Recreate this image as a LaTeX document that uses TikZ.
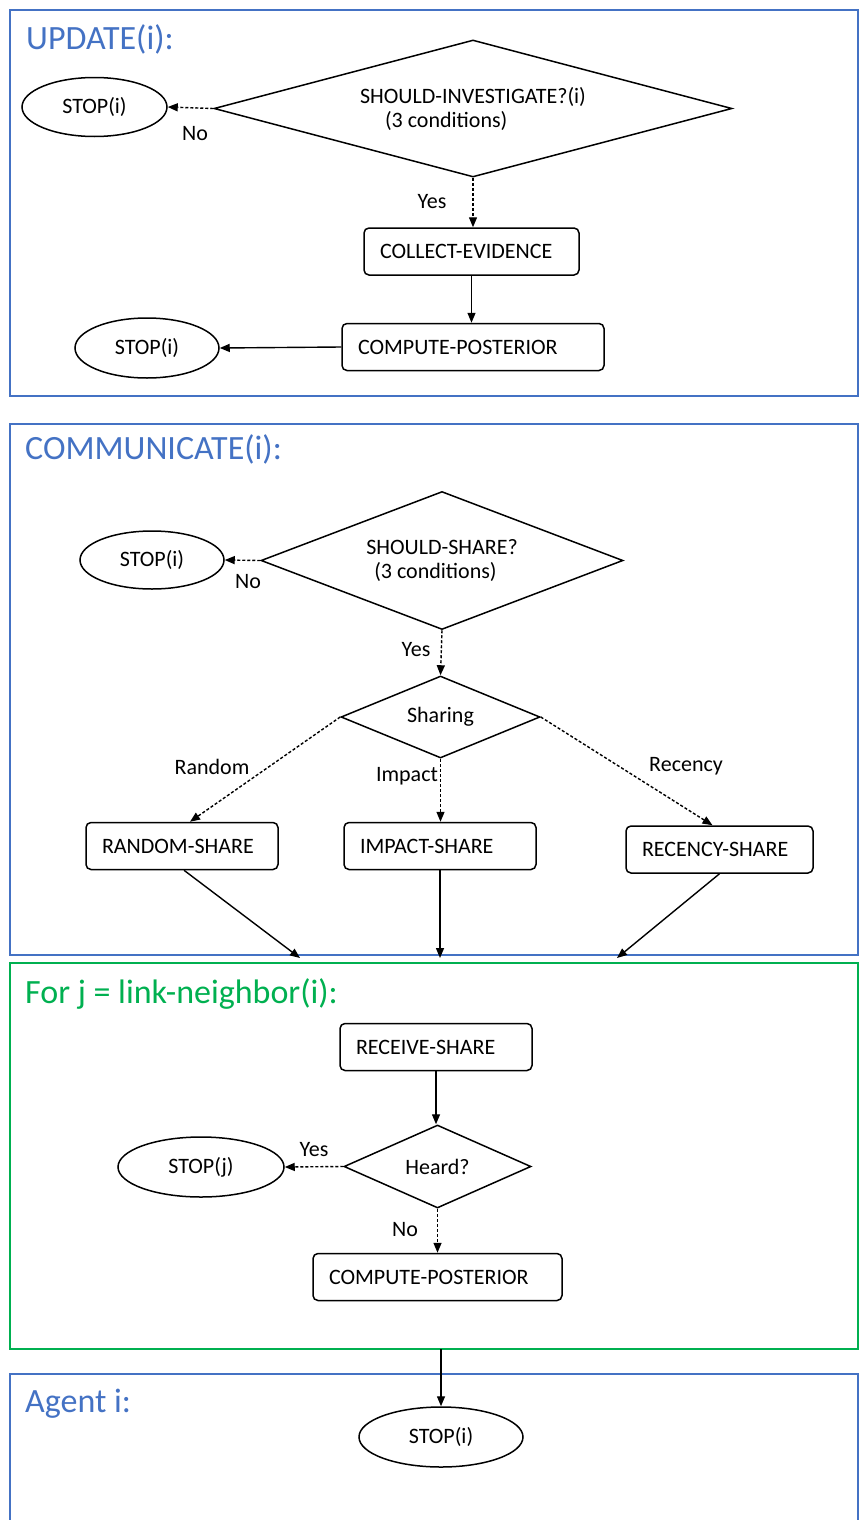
\documentclass[tikz,border=0pt]{standalone}
\usepackage{fontspec}
\setmainfont{Carlito}
\usepackage{xcolor}
\usepackage{tikz}
\usetikzlibrary{shapes,arrows.meta}
\usetikzlibrary{positioning}
\definecolor{bluoffice}{RGB}{68,114,196}
\definecolor{verde}{RGB}{0,176,80}
\newcommand{\testonodo}{\fontsize{22}{24}\selectfont}
\newcommand{\testotitolo}{\fontsize{34}{38}\selectfont}
\tikzset{%
  blocco/.style={%
    draw, rounded corners=5pt, line width=1.5pt,
    minimum height=47pt, inner xsep=16pt, inner ysep=0pt,
    align=left, font=\testonodo
  },
  rombo/.style={draw, diamond, line width=1.5pt, inner sep=0pt, font=\testonodo},
  ellisse/.style={draw, ellipse, line width=1.5pt, inner sep=0pt, font=\testonodo},
  freccia/.style={-{Triangle[length=10pt,width=8pt]}, line width=1.4pt},
  tratteggio/.style={freccia, dash pattern=on 3pt off 2pt},
  cornice/.style={line width=1.6pt},
  titolo/.style={anchor=base west, inner sep=0pt, font=\testotitolo},
  etichetta/.style={inner sep=0pt, font=\testonodo}
}

\begin{document}
\begin{tikzpicture}[x=1pt,y=-1pt]
\useasboundingbox (0,0) rectangle (859,1520);
\clip (0,0) rectangle (859,1520);

% cornici
\draw[cornice,bluoffice] (10,10) rectangle (858,396);
\draw[cornice,bluoffice] (10,424) rectangle (858,955);
\draw[cornice,verde] (10,963) rectangle (858,1349);
\draw[cornice,bluoffice] (10,1374) rectangle (858,1540);

\node[titolo,bluoffice] (tupdate) at (26,49) {UPDATE(i):};
\node[titolo,bluoffice] (tcomm) at (25,459) {COMMUNICATE(i):};
\node[titolo,verde] (tfor) at (25,1003) {For j = link-neighbor(i):};
\node[titolo,bluoffice] (tagent) at (25,1412) {Agent i:};

% UPDATE
\node[rombo, aspect=3.8, minimum width=518pt, minimum height=137pt, align=left] (invest) at (473,108.5)
  {SHOULD-INVESTIGATE?(i)\\\hspace*{25pt}(3 conditions)};
\node[ellisse, minimum width=145pt, minimum height=59pt] (stopA) at (94.5,107) {STOP(i)};
\node[blocco, text width=183pt] (collect) at (471.5,251.5) {COLLECT-EVIDENCE};
\node[blocco, text width=230pt] (postA) at (473,347) {COMPUTE-POSTERIOR};
\node[ellisse, minimum width=144pt, minimum height=60pt] (stopB) at (147,348) {STOP(i)};
\node[etichetta] (no1) at (195,134) {No};
\node[etichetta] (yes1) at (432,202) {Yes};

\draw[tratteggio] (invest.west) -- (stopA.east);
\draw[tratteggio] (invest.south) -- (invest.south |- collect.north);
\draw[freccia] (collect.south) -- (collect.south |- postA.north);
\draw[freccia] (postA.west) -- (stopB.east);

% COMMUNICATE
\node[rombo, aspect=2.6, minimum width=362pt, minimum height=138pt, align=left] (share) at (442,560.5)
  {SHOULD-SHARE?\\\hspace*{8pt}(3 conditions)};
\node[ellisse, minimum width=144pt, minimum height=58pt] (stopC) at (152,560) {STOP(i)};
\node[rombo, aspect=2.4, minimum width=199pt, minimum height=82pt] (sharing) at (440.5,717) {Sharing};
\node[blocco, text width=160pt] (random) at (182,846) {RANDOM-SHARE};
\node[blocco, text width=160pt] (impact) at (440,846) {IMPACT-SHARE};
\node[blocco, text width=155pt] (recency) at (719.5,849.5) {RECENCY-SHARE};
\node[etichetta] (no2) at (248,582) {No};
\node[etichetta] (yes2) at (416,650) {Yes};
\node[etichetta] (lrandom) at (212,767) {Random};
\node[etichetta] (limpact) at (407,776) {Impact};
\node[etichetta] (lrecency) at (686,766) {Recency};
\coordinate (finA) at (300,958);
\coordinate (finB) at (440,958);
\coordinate (finC) at (617,958);

\draw[tratteggio] (share.west) -- (stopC.east);
\draw[tratteggio] (share.south) -- (sharing.north);
\draw[tratteggio] (sharing.west) -- ([xshift=8pt]random.north);
\draw[tratteggio] (sharing.south) -- (sharing.south |- impact.north);
\draw[tratteggio] (sharing.east) -- ([xshift=-7pt]recency.north);
\draw[freccia] ([xshift=2pt]random.south) -- (finA);
\draw[freccia] (impact.south) -- (finB);
\draw[freccia] (recency.south) -- (finC);

% link-neighbor
\node[blocco, text width=160pt] (receive) at (436,1047) {RECEIVE-SHARE};
\node[rombo, aspect=2.3, minimum width=187pt, minimum height=83pt] (heard) at (437.5,1166.5) {Heard?};
\node[ellisse, minimum width=166pt, minimum height=60pt] (stopJ) at (201,1167) {STOP(j)};
\node[blocco, text width=217pt] (postB) at (437.5,1277) {COMPUTE-POSTERIOR};
\node[etichetta] (yes3) at (314,1150) {Yes};
\node[etichetta] (no3) at (405,1230) {No};
\coordinate (uscita) at (441,1349);

\draw[freccia] (receive.south) -- (receive.south |- heard.north);
\draw[tratteggio] (heard.west) -- (stopJ.east);
\draw[tratteggio] (heard.south) -- (heard.south |- postB.north);

% Agent
\node[ellisse, minimum width=164pt, minimum height=60pt] (stopK) at (441,1437) {STOP(i)};
\draw[freccia] (uscita) -- (stopK.north);
\end{tikzpicture}
\end{document}
